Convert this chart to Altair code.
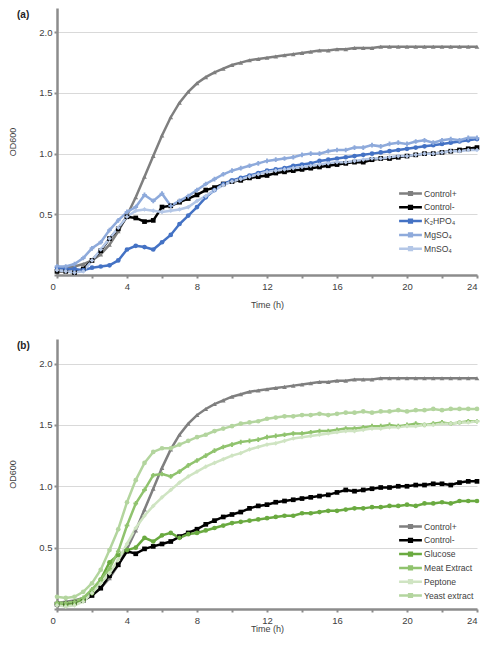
import altair as alt
import pandas as pd

hours = [0, 0.5, 1, 1.5, 2, 2.5, 3, 3.5, 4, 4.5, 5, 5.5, 6, 6.5, 7, 7.5, 8, 8.5,
         9, 9.5, 10, 10.5, 11, 11.5, 12, 12.5, 13, 13.5, 14, 14.5, 15, 15.5, 16,
         16.5, 17, 17.5, 18, 18.5, 19, 19.5, 20, 20.5, 21, 21.5, 22, 22.5, 23,
         23.5, 24]

control_pos = [0.05, 0.06, 0.07, 0.09, 0.12, 0.17, 0.25, 0.36, 0.49,
               0.64, 0.81, 0.98, 1.15, 1.30, 1.42, 1.51, 1.58,
               1.63, 1.67, 1.70, 1.73, 1.75, 1.77, 1.78, 1.79,
               1.80, 1.81, 1.82, 1.83, 1.84, 1.85, 1.85, 1.86,
               1.86, 1.87, 1.87, 1.87, 1.88, 1.88, 1.88, 1.88,
               1.88, 1.88, 1.88, 1.88, 1.88, 1.88, 1.88, 1.88]

# Panel (a)
control_neg_a = [0.03, 0.03, 0.02, 0.05, 0.12, 0.20, 0.30, 0.38, 0.48,
                 0.47, 0.44, 0.45, 0.56, 0.57, 0.60, 0.63, 0.66,
                 0.70, 0.72, 0.75, 0.77, 0.78, 0.80, 0.81, 0.82,
                 0.84, 0.85, 0.86, 0.87, 0.88, 0.89, 0.90, 0.91,
                 0.92, 0.93, 0.93, 0.95, 0.96, 0.96, 0.97, 0.98,
                 0.99, 1.00, 1.00, 1.01, 1.02, 1.03, 1.04, 1.05]
k2hpo4 = [0.06, 0.05, 0.05, 0.04, 0.06, 0.07, 0.08, 0.12, 0.21,
          0.24, 0.23, 0.21, 0.27, 0.33, 0.42, 0.49, 0.56,
          0.64, 0.70, 0.75, 0.78, 0.80, 0.82, 0.84, 0.86,
          0.87, 0.88, 0.90, 0.91, 0.92, 0.94, 0.95, 0.96,
          0.97, 0.98, 0.99, 1.00, 1.01, 1.02, 1.03, 1.04,
          1.05, 1.06, 1.07, 1.08, 1.09, 1.10, 1.11, 1.12]
mgso4 = [0.07, 0.07, 0.09, 0.14, 0.22, 0.27, 0.37, 0.45, 0.52,
         0.56, 0.66, 0.61, 0.67, 0.57, 0.61, 0.65, 0.70,
         0.75, 0.79, 0.83, 0.86, 0.88, 0.90, 0.92, 0.94,
         0.95, 0.96, 0.97, 0.99, 1.00, 1.00, 1.02, 1.03,
         1.03, 1.05, 1.05, 1.07, 1.06, 1.08, 1.09, 1.08,
         1.10, 1.11, 1.09, 1.11, 1.12, 1.11, 1.13, 1.13]
mnso4 = [0.04, 0.03, 0.02, 0.03, 0.12, 0.21, 0.30, 0.39, 0.48,
         0.53, 0.54, 0.53, 0.52, 0.53, 0.54, 0.56, 0.61,
         0.65, 0.70, 0.74, 0.77, 0.79, 0.81, 0.83, 0.85,
         0.86, 0.87, 0.88, 0.89, 0.90, 0.91, 0.92, 0.93,
         0.93, 0.94, 0.95, 0.96, 0.96, 0.97, 0.98, 0.98,
         0.99, 1.00, 1.00, 1.01, 1.02, 1.02, 1.03, 1.03]

# Panel (b)
control_neg_b = [0.04, 0.04, 0.05, 0.07, 0.11, 0.17, 0.27, 0.36, 0.47,
                 0.45, 0.49, 0.51, 0.53, 0.55, 0.59, 0.62, 0.65,
                 0.69, 0.72, 0.75, 0.77, 0.79, 0.82, 0.84, 0.85,
                 0.87, 0.88, 0.89, 0.90, 0.91, 0.92, 0.93, 0.95,
                 0.97, 0.96, 0.97, 0.98, 0.99, 0.99, 1.00, 1.00,
                 1.01, 1.01, 1.02, 1.02, 1.01, 1.03, 1.04, 1.04]
glucose = [0.04, 0.03, 0.04, 0.07, 0.13, 0.24, 0.38, 0.44, 0.48,
           0.50, 0.58, 0.55, 0.60, 0.62, 0.58, 0.61, 0.62,
           0.64, 0.66, 0.68, 0.70, 0.71, 0.72, 0.73, 0.74,
           0.75, 0.76, 0.76, 0.78, 0.78, 0.79, 0.80, 0.80,
           0.81, 0.82, 0.82, 0.83, 0.83, 0.84, 0.84, 0.85,
           0.84, 0.86, 0.86, 0.87, 0.86, 0.88, 0.88, 0.88]
meat_extract = [0.05, 0.05, 0.06, 0.09, 0.16, 0.24, 0.33, 0.47, 0.68,
                0.86, 0.97, 1.09, 1.10, 1.08, 1.12, 1.17, 1.21,
                1.25, 1.29, 1.32, 1.34, 1.36, 1.37, 1.38, 1.40,
                1.41, 1.42, 1.43, 1.43, 1.44, 1.45, 1.45, 1.46,
                1.47, 1.47, 1.48, 1.49, 1.49, 1.50, 1.49, 1.50,
                1.51, 1.50, 1.51, 1.52, 1.51, 1.52, 1.53, 1.53]
peptone = [0.03, 0.02, 0.03, 0.06, 0.13, 0.21, 0.29, 0.40, 0.53,
           0.66, 0.76, 0.84, 0.91, 0.97, 1.03, 1.08, 1.12,
           1.16, 1.19, 1.22, 1.25, 1.27, 1.30, 1.32, 1.34,
           1.35, 1.37, 1.39, 1.40, 1.41, 1.42, 1.43, 1.44,
           1.45, 1.45, 1.46, 1.47, 1.47, 1.48, 1.48, 1.49,
           1.49, 1.50, 1.50, 1.51, 1.51, 1.52, 1.52, 1.53]
yeast_extract = [0.10, 0.09, 0.10, 0.14, 0.21, 0.32, 0.48, 0.65, 0.87,
                 1.05, 1.19, 1.28, 1.31, 1.31, 1.34, 1.37, 1.40,
                 1.42, 1.45, 1.47, 1.49, 1.51, 1.52, 1.53, 1.55,
                 1.56, 1.57, 1.57, 1.58, 1.58, 1.59, 1.58, 1.59,
                 1.60, 1.60, 1.61, 1.60, 1.61, 1.61, 1.62, 1.61,
                 1.62, 1.62, 1.63, 1.62, 1.63, 1.63, 1.63, 1.63]

names_a = ["Control+", "Control-", "K₂HPO₄", "MgSO₄", "MnSO₄"]
series_a = [control_pos, control_neg_a, k2hpo4, mgso4, mnso4]
colors_a = ["#7f7f7f", "#000000", "#4472c4", "#8eaadb", "#b4c7e7"]
shapes_a = ["triangle-up", "square", "circle", "cross", "diamond"]

names_b = ["Control+", "Control-", "Glucose", "Meat Extract", "Peptone", "Yeast extract"]
series_b = [control_pos, control_neg_b, glucose, meat_extract, peptone, yeast_extract]
colors_b = ["#7f7f7f", "#000000", "#6aaa40", "#90c36e", "#cfe4c2", "#b3d59e"]
shapes_b = ["triangle-up", "square", "circle", "cross", "diamond", "circle"]

x_ticks = [0, 2, 4, 6, 8, 10, 12, 14, 16, 18, 20, 22, 24]
y_ticks = [0, 0.5, 1.0, 1.5, 2.0]

FONT = "Liberation Sans"
TEXT = "#404040"
AXIS_GRAY = "#8c8c8c"
# legend glyph: a short line with a small square marker (drawn with stroke)
LEGEND_PATH = "M-3.8,0H3.8M-0.45,-0.45H0.45V0.45H-0.45Z"


def panel(names, series, colors, shapes, tag, width, height, legend_y, x_title_pad):
    marker_ids = ["m%d" % i for i in range(len(names))]
    rows = []
    for n, m, vals in zip(names, marker_ids, series):
        assert len(vals) == len(hours), n
        for t, v in zip(hours, vals):
            rows.append({"series": n, "marker": m, "t": t, "v": v})
    df = pd.DataFrame(rows)

    x = alt.X("t:Q", scale=alt.Scale(domain=[0, 24], nice=False, zero=False),
              axis=alt.Axis(values=x_ticks, title="Time (h)", grid=False, titlePadding=x_title_pad,
                            labelExpr="datum.value % 4 === 0 ? datum.label : ''",
                            labelOffset={"condition": {"test": "datum.value === 0", "value": -7}, "value": 0}))
    y = alt.Y("v:Q", scale=alt.Scale(domain=[0, 2.2], nice=False),
              axis=alt.Axis(values=y_ticks, title="OD600", grid=True, format=".1f",
                            labelExpr="datum.value === 0 ? '' : datum.label"))

    lines = alt.Chart(df).mark_line(strokeWidth=2.5).encode(
        x=x, y=y,
        color=alt.Color("series:N", scale=alt.Scale(domain=names, range=colors), sort=names,
                        legend=alt.Legend(title=None, orient="none", legendX=349, legendY=legend_y,
                                          symbolType=LEGEND_PATH, symbolSize=36,
                                          symbolStrokeWidth=2.5, labelFontSize=8.6,
                                          labelFont=FONT, labelColor=TEXT, labelOffset=9,
                                          rowPadding=0.8, padding=0)),
    )
    points = alt.Chart(df).mark_point(filled=True, size=22, opacity=1, strokeWidth=0).encode(
        x=x, y=y,
        fill=alt.Fill("marker:N", scale=alt.Scale(domain=marker_ids, range=colors), legend=None),
        shape=alt.Shape("marker:N", scale=alt.Scale(domain=marker_ids, range=shapes), legend=None),
    )
    tag_chart = alt.Chart(pd.DataFrame({"tag": [tag]})).mark_text(
        fontWeight="bold", fontSize=10, align="left", baseline="middle", font=FONT, color="#222222"
    ).encode(x=alt.value(-40), y=alt.value(7), text="tag:N")
    return alt.layer(lines, points, tag_chart).properties(width=width, height=height)


pa = panel(names_a, series_a, colors_a, shapes_a, "(a)", 420, 267, 181, 10)
pb = panel(names_b, series_b, colors_b, shapes_b, "(b)", 420, 270, 183, 0)

chart = alt.vconcat(pa, pb, spacing=29).resolve_scale(
    color="independent", shape="independent", fill="independent"
).properties(padding=0).configure_view(stroke=None).configure_axis(
    labelFont=FONT, titleFont=FONT, labelFontSize=9.5, titleFontSize=9,
    titleFontWeight="normal", labelColor=TEXT, titleColor=TEXT,
    domainColor=AXIS_GRAY, domainWidth=2.5, tickColor=AXIS_GRAY, tickSize=3, tickWidth=2,
    gridColor="#d9d9d9", gridWidth=1,
).configure_axisY(labelPadding=2, titlePadding=21).configure_axisX(labelPadding=3)

chart.save("out.html", embed_options={"renderer": "svg", "actions": False})
